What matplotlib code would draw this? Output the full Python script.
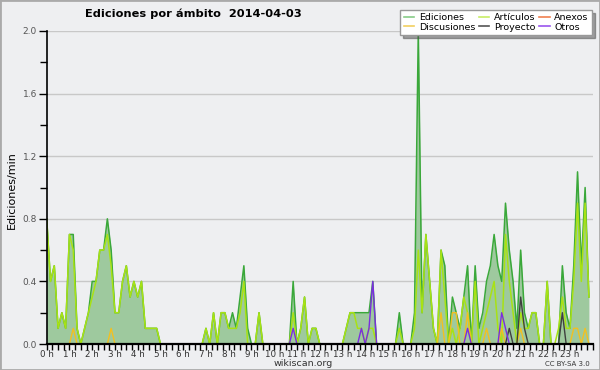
import numpy as np
import matplotlib
matplotlib.use('Agg')
import matplotlib.pyplot as plt
from matplotlib.lines import Line2D
from matplotlib.patches import Rectangle

# edits per minute, one value per 10 minute slot (144 slots = 24 h)
ediciones = [
    0.8, 0.4, 0.5, 0.1, 0.2, 0.1, 0.7, 0.7, 0.1, 0.0, 0.1, 0.2,
    0.4, 0.4, 0.6, 0.6, 0.8, 0.6, 0.2, 0.2, 0.4, 0.5, 0.3, 0.4,
    0.3, 0.4, 0.1, 0.1, 0.1, 0.1, 0.0, 0.0, 0.0, 0.0, 0.0, 0.0,
    0.0, 0.0, 0.0, 0.0, 0.0, 0.0, 0.1, 0.0, 0.2, 0.0, 0.2, 0.2,
    0.1, 0.2, 0.1, 0.3, 0.5, 0.1, 0.0, 0.0, 0.2, 0.0, 0.0, 0.0,
    0.0, 0.0, 0.0, 0.0, 0.0, 0.4, 0.0, 0.1, 0.3, 0.0, 0.1, 0.1,
    0.0, 0.0, 0.0, 0.0, 0.0, 0.0, 0.0, 0.1, 0.2, 0.2, 0.2, 0.2,
    0.2, 0.2, 0.4, 0.0, 0.0, 0.0, 0.0, 0.0, 0.0, 0.2, 0.0, 0.0,
    0.0, 0.2, 2.0, 0.2, 0.7, 0.4, 0.1, 0.0, 0.6, 0.5, 0.0, 0.3,
    0.2, 0.1, 0.3, 0.5, 0.0, 0.5, 0.1, 0.2, 0.4, 0.5, 0.7, 0.5,
    0.4, 0.9, 0.6, 0.4, 0.1, 0.6, 0.2, 0.1, 0.2, 0.2, 0.0, 0.0,
    0.4, 0.0, 0.0, 0.0, 0.5, 0.2, 0.1, 0.5, 1.1, 0.5, 1.0, 0.3,
]
articulos = [
    0.8, 0.4, 0.5, 0.1, 0.2, 0.1, 0.7, 0.6, 0.1, 0.0, 0.1, 0.2,
    0.3, 0.4, 0.6, 0.6, 0.7, 0.5, 0.2, 0.2, 0.4, 0.5, 0.3, 0.4,
    0.3, 0.4, 0.1, 0.1, 0.1, 0.1, 0.0, 0.0, 0.0, 0.0, 0.0, 0.0,
    0.0, 0.0, 0.0, 0.0, 0.0, 0.0, 0.1, 0.0, 0.2, 0.0, 0.2, 0.2,
    0.1, 0.1, 0.1, 0.2, 0.4, 0.0, 0.0, 0.0, 0.2, 0.0, 0.0, 0.0,
    0.0, 0.0, 0.0, 0.0, 0.0, 0.2, 0.0, 0.1, 0.3, 0.0, 0.1, 0.1,
    0.0, 0.0, 0.0, 0.0, 0.0, 0.0, 0.0, 0.1, 0.2, 0.2, 0.1, 0.1,
    0.0, 0.1, 0.1, 0.0, 0.0, 0.0, 0.0, 0.0, 0.0, 0.1, 0.0, 0.0,
    0.0, 0.1, 0.6, 0.2, 0.7, 0.4, 0.1, 0.0, 0.6, 0.3, 0.0, 0.1,
    0.0, 0.1, 0.3, 0.2, 0.0, 0.4, 0.0, 0.1, 0.2, 0.3, 0.4, 0.1,
    0.0, 0.7, 0.4, 0.2, 0.0, 0.2, 0.1, 0.1, 0.2, 0.2, 0.0, 0.0,
    0.4, 0.0, 0.0, 0.1, 0.3, 0.1, 0.1, 0.4, 0.9, 0.4, 0.9, 0.3,
]
# sparse series: {slot: value}
discusiones_pts = {7: 0.1, 17: 0.1, 104: 0.2, 107: 0.2, 108: 0.2, 111: 0.2,
                   116: 0.1, 120: 0.1, 125: 0.1, 139: 0.1, 140: 0.1, 142: 0.1}
proyecto_pts = {122: 0.1, 125: 0.3, 126: 0.1, 136: 0.2}
otros_pts = {65: 0.1, 83: 0.1, 85: 0.1, 86: 0.4, 111: 0.1, 120: 0.2, 121: 0.1}
anexos_pts = {}

hour_labels = ["{} h".format(h) for h in range(24)]
y_ticks = [0.0, 0.4, 0.8, 1.2, 1.6, 2.0]


def expand(points):
    arr = np.zeros(144)
    for k, v in points.items():
        arr[k] = v
    return arr


discusiones = expand(discusiones_pts)
proyecto = expand(proyecto_pts)
otros = expand(otros_pts)
anexos = expand(anexos_pts)

hours = np.arange(144) / 6.0

bg = '#eeeff1'
fig = plt.figure(figsize=(6, 3.7), dpi=100, facecolor=bg)
ax = fig.add_axes([46.7 / 600, 26 / 370, 546 / 600, 313 / 370])
ax.set_facecolor(bg)

# area + lines
ax.fill_between(hours, ediciones, color='#9ec99e', lw=0)
ax.plot(hours, ediciones, color='#3aa83a', lw=1.1)
ax.plot(hours, articulos, color='#a8e214', lw=1.1)
ax.plot(hours, anexos, color='#f07a4a', lw=1.0)
ax.plot(hours, discusiones, color='#f2c021', lw=1.0)
ax.plot(hours, proyecto, color='#404040', lw=1.0)
ax.plot(hours, otros, color='#7a2ee0', lw=1.0)

ax.set_xlim(0, 24)
ax.set_ylim(0, 2.0)

ax.set_xticks(range(24))
ax.set_xticklabels(hour_labels)
ax.set_xticks(np.arange(0, 24.01, 0.25), minor=True)
ax.set_yticks(y_ticks)
ax.set_yticklabels(["{:.1f}".format(v) for v in y_ticks])
ax.set_yticks(np.arange(0, 2.01, 0.2), minor=True)

ax.tick_params(axis='x', which='both', direction='out', length=4, width=1,
               color='black', labelsize=6.3, labelcolor='#333333', pad=0)
ax.tick_params(axis='y', which='major', direction='out', length=6, width=1,
               color='black', labelsize=6.5, labelcolor='#555555', pad=1)
ax.tick_params(axis='y', which='minor', direction='out', length=5, width=1,
               color='black')

ax.yaxis.grid(True, which='major', color='#c8c8c8', lw=1)
ax.set_axisbelow(True)
for side in ['top', 'right']:
    ax.spines[side].set_visible(False)
ax.spines['left'].set_linewidth(1.2)
ax.spines['bottom'].set_linewidth(1.6)
ax.spines['bottom'].set_zorder(5)

# texts
fig.text(85 / 600, 1 - 14 / 370, 'Ediciones por ámbito  2014-04-03',
         fontsize=8.2, fontweight='bold', va='center', ha='left')
fig.text(12 / 600, 1 - 190 / 370, 'Ediciones/min', rotation=90,
         fontsize=8, va='center', ha='center')
fig.text(303 / 600, 1 - 363 / 370, 'wikiscan.org', fontsize=6.8,
         color='#333333', va='center', ha='center')
fig.text(590 / 600, 1 - 364 / 370, 'CC BY-SA 3.0', fontsize=5,
         color='#333333', va='center', ha='right')

# legend
handles = [
    Line2D([], [], color='#88cc88', lw=1.2),
    Line2D([], [], color='#f2d060', lw=1.2),
    Line2D([], [], color='#c8ee66', lw=1.2),
    Line2D([], [], color='#555555', lw=1.2),
    Line2D([], [], color='#f08050', lw=1.2),
    Line2D([], [], color='#9955ee', lw=1.2),
]
names = ['Ediciones', 'Discusiones', 'Artículos', 'Proyecto', 'Anexos', 'Otros']
leg = ax.legend(handles, names, loc='upper right', ncol=3,
                bbox_to_anchor=(592 / 600, 1 - 10 / 370),
                bbox_transform=fig.transFigure, fontsize=6.8, frameon=True,
                fancybox=False, shadow=True, edgecolor='#999999',
                facecolor='white', framealpha=1, handlelength=1.1,
                handletextpad=0.5, columnspacing=0.4, labelspacing=0.05,
                borderpad=0.35, borderaxespad=0)
leg.get_frame().set_linewidth(1.0)

# outer border
fig.patches.append(Rectangle((0, 0), 1, 1, transform=fig.transFigure,
                             fill=False, edgecolor='#aaaaaa', lw=2))

fig.savefig('out.png', dpi=100, facecolor=bg)
